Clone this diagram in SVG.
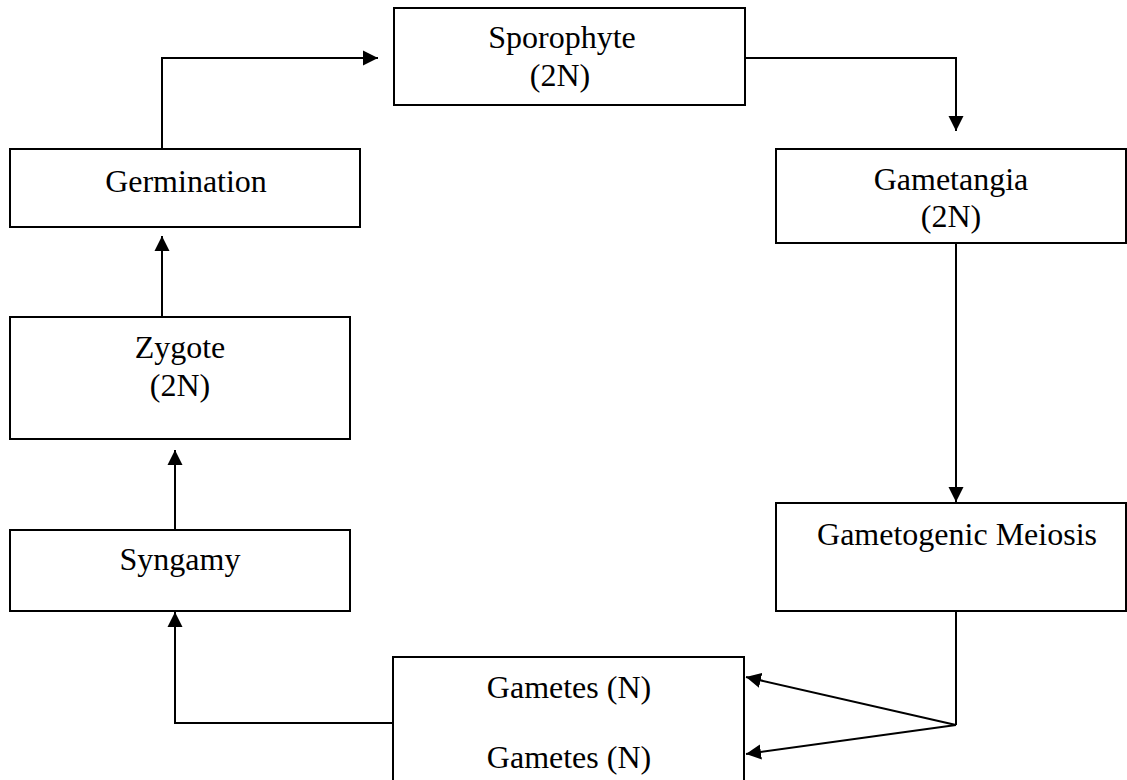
<svg xmlns="http://www.w3.org/2000/svg" width="1127" height="780" viewBox="0 0 1127 780">
<style>
.box{fill:#fff;stroke:#000;stroke-width:2}
.t{font-family:"Liberation Serif","Times New Roman",serif;font-size:32px;fill:#000;text-anchor:middle}
.c{fill:none;stroke:#000;stroke-width:2}
</style>
<defs>
<marker id="ah" markerWidth="16" markerHeight="16" refX="15" refY="8" orient="auto" markerUnits="userSpaceOnUse">
<path d="M0,0.5 L15,8 L0,15.5 Z" fill="#000"/>
</marker>
</defs>
<rect width="1127" height="780" fill="#fff"/>
<g id="connectors">
<polyline class="c" points="162,149 162,58 378,58" marker-end="url(#ah)"/>
<polyline class="c" points="745,58 956,58 956,131" marker-end="url(#ah)"/>
<polyline class="c" points="956,244 956,502" marker-end="url(#ah)"/>
<polyline class="c" points="956,611 956,725"/>
<line class="c" x1="956" y1="725" x2="746" y2="677" marker-end="url(#ah)"/>
<line class="c" x1="956" y1="725" x2="746" y2="754" marker-end="url(#ah)"/>
<polyline class="c" points="393,723 175,723 175,612" marker-end="url(#ah)"/>
<polyline class="c" points="175,530 175,450" marker-end="url(#ah)"/>
<polyline class="c" points="162,317 162,236" marker-end="url(#ah)"/>
</g>
<g id="sporophyte">
<rect class="box" x="394" y="8" width="351" height="97"/>
<text class="t" x="562" y="48">Sporophyte</text>
<text class="t" x="560" y="86">(2N)</text>
</g>
<g id="gametangia">
<rect class="box" x="776" y="149" width="350" height="94"/>
<text class="t" x="951" y="190">Gametangia</text>
<text class="t" x="951" y="227">(2N)</text>
</g>
<g id="gametogenic-meiosis">
<rect class="box" x="776" y="503" width="350" height="108"/>
<text class="t" x="957" y="545">Gametogenic Meiosis</text>
</g>
<g id="gametes">
<rect class="box" x="393" y="657" width="351" height="130"/>
<text class="t" x="569" y="698">Gametes (N)</text>
<text class="t" x="569" y="768">Gametes (N)</text>
</g>
<g id="syngamy">
<rect class="box" x="10" y="530" width="340" height="81"/>
<text class="t" x="180" y="570">Syngamy</text>
</g>
<g id="zygote">
<rect class="box" x="10" y="317" width="340" height="122"/>
<text class="t" x="180" y="358">Zygote</text>
<text class="t" x="180" y="396">(2N)</text>
</g>
<g id="germination">
<rect class="box" x="10" y="149" width="350" height="78"/>
<text class="t" x="186" y="192">Germination</text>
</g>
</svg>
